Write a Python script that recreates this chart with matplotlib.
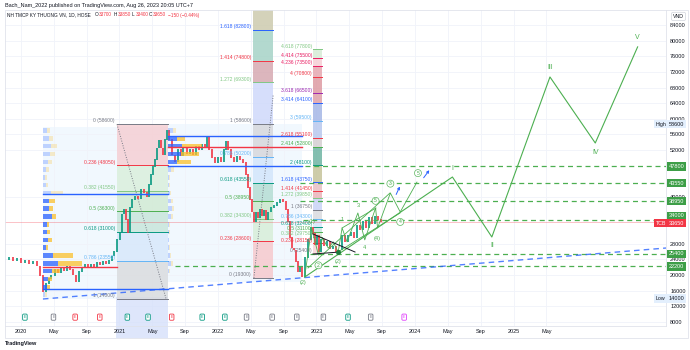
import matplotlib.pyplot as plt
import matplotlib.transforms as mtransforms
from matplotlib.patches import Rectangle

plt.rcParams['font.family'] = ['Liberation Sans', 'DejaVu Sans']

# daily-ish closes, sampled (decimal year, VND)
bar_t = [2019.84, 2019.88, 2019.92, 2019.96, 2020.00, 2020.04, 2020.08, 2020.12, 2020.16, 2020.19,
         2020.22, 2020.25, 2020.28, 2020.31, 2020.35, 2020.38, 2020.41, 2020.44, 2020.47, 2020.50,
         2020.53, 2020.56, 2020.59, 2020.62, 2020.65, 2020.68, 2020.71, 2020.74, 2020.77, 2020.80,
         2020.83, 2020.86, 2020.89, 2020.92, 2020.94, 2020.97, 2021.01, 2021.03, 2021.05, 2021.07,
         2021.09, 2021.11, 2021.13, 2021.16, 2021.19, 2021.22, 2021.25, 2021.28, 2021.30, 2021.32,
         2021.34, 2021.36, 2021.38, 2021.40, 2021.42, 2021.44, 2021.46, 2021.48, 2021.50, 2021.53,
         2021.56, 2021.59, 2021.62, 2021.65, 2021.69, 2021.72, 2021.75, 2021.78, 2021.81, 2021.84,
         2021.87, 2021.89, 2021.91, 2021.94, 2021.97, 2022.00, 2022.03, 2022.06, 2022.08, 2022.10,
         2022.13, 2022.16, 2022.19, 2022.22, 2022.25, 2022.28, 2022.30, 2022.32, 2022.35, 2022.37,
         2022.39, 2022.41, 2022.43, 2022.45, 2022.47, 2022.49, 2022.51, 2022.54, 2022.57, 2022.60,
         2022.63, 2022.66, 2022.69, 2022.71, 2022.73, 2022.75, 2022.77, 2022.79, 2022.81, 2022.83,
         2022.85, 2022.88, 2022.91, 2022.94, 2022.96, 2022.98, 2023.01, 2023.03, 2023.05, 2023.08,
         2023.11, 2023.14, 2023.17, 2023.20, 2023.23, 2023.26, 2023.29, 2023.32, 2023.35, 2023.38,
         2023.41, 2023.44, 2023.47, 2023.50, 2023.53, 2023.56, 2023.59, 2023.62, 2023.65]
bar_close = [23900, 24600, 23600, 24100, 23100, 23600, 22800, 23400, 22300, 19800,
             15700, 17700, 19000, 19800, 21300, 20500, 21800, 21000, 22300, 21300,
             20000, 18200, 20800, 21800, 22600, 22100, 22800, 22100, 23100, 22600,
             23400, 22800, 23600, 24800, 25900, 29000, 31000, 35600, 36700, 34100,
             30800, 37200, 39200, 40000, 39500, 41800, 41000, 40000, 43100, 45600,
             47700, 49500, 52500, 54300, 52500, 50700, 54600, 57100, 54600, 50700,
             48900, 52000, 50500, 52500, 51000, 52000, 50700, 53000, 52000, 53300,
             52500, 55300, 52000, 50000, 48700, 50000, 48900, 52000, 54100, 52000,
             50000, 48900, 50200, 49500, 48700, 45600, 42300, 39200, 36100, 33600,
             36100, 34600, 36700, 35100, 36400, 34100, 36100, 37200, 37700, 38500,
             39200, 38700, 36700, 33600, 29500, 26900, 26400, 23400, 20800, 22300,
             19500, 24400, 29000, 32100, 30500, 27700, 30000, 25900, 29000, 27400,
             28500, 26700, 27400, 25900, 26400, 30000, 28500, 30000, 31000, 29500,
             32600, 31500, 33600, 32100, 34600, 33100, 35100, 34100, 33650]

# volume profile rows (price bin centres) and up/down volume
vp_rows = [57000, 55000, 53000, 51000, 49000, 47000, 45000, 43000, 41000, 39000, 37000,
           35000, 33000, 31000, 29000, 27000, 25000, 23000, 21000, 19000, 17000, 15000]
vp1_up = [4, 6, 8, 7, 5, 3, 2, 3, 8, 6, 6, 9, 4, 4, 5, 3, 10, 15, 9, 5, 4, 2]
vp1_down = [3, 4, 6, 5, 4, 3, 2, 2, 12, 6, 4, 4, 2, 3, 4, 2, 20, 24, 8, 4, 3, 2]
vp2_up = [5, 9, 14, 13, 9, 3, 1, 1, 2, 3, 4, 3, 1, 1, 1, 1, 2, 3, 1, 0, 0, 0]
vp2_down = [3, 8, 20, 18, 14, 3, 1, 1, 1, 2, 2, 2, 1, 1, 0, 1, 1, 2, 1, 0, 0, 0]
vp1_vah, vp1_poc, vp1_val = 40700, 22100, 16400
vp2_vah, vp2_poc, vp2_val = 55600, 52800, 47800

# fib retracement 2021 rally
fib1_coef = ['0', '0.236', '0.382', '0.5', '0.618', '0.786', '1']
fib1_vals = [58600, 48050, 41550, 36300, 31000, 23550, 14000]
# fib extension from 2022 low
fib2_coef = ['0', '0.236', '0.382', '0.5', '0.618', '0.786', '1', '1.272', '1.414', '1.618']
fib2_vals = [19300, 28600, 34300, 38950, 43550, 50200, 58600, 69300, 74800, 82800]
# trend-based extension
fib3_coef = ['0', '0.236', '0.382', '0.5', '0.618', '0.786', '1', '1.272', '1.414', '1.618',
             '2', '2.414', '2.618', '3', '3.414', '3.618', '4', '4.236', '4.414', '4.618']
fib3_vals = [25400, 28150, 29750, 31100, 32400, 34300, 36750, 39850, 41450, 43750,
             48100, 52800, 55100, 59500, 64100, 66500, 70800, 73500, 75500, 77800]

# support / resistance levels
levels = [47800, 43550, 38950, 34000, 25400, 22200]
level_start = [2022.88, 2022.83, 2022.83, 2022.86, 2022.93, 2021.56]
last_price = 33650

# elliott wave count
big_t = [2022.88, 2024.38, 2024.78, 2025.37, 2025.83, 2026.26]
big_v = [19500, 45100, 29750, 70700, 53800, 78400]
big_lbl = ['', 'I', 'II', 'III', 'IV', 'V']
sub_t = [2022.88, 2022.95, 2023.02, 2023.06, 2023.12, 2023.17, 2023.22, 2023.26, 2023.31,
         2023.42, 2023.49, 2023.60, 2023.62, 2023.75, 2023.85, 2024.02]
sub_v = [19500, 32050, 25100, 29500, 26900, 28500, 25900, 32050, 28500,
         35900, 29000, 37200, 32050, 41000, 36150, 43800]

events_t = [2020.04, 2020.33, 2020.55, 2020.80, 2021.08, 2021.29, 2021.53, 2021.84,
            2022.07, 2022.29, 2022.55, 2022.80, 2023.07, 2023.32, 2023.55, 2023.89]
events_c = ['g', 'k', 'r', 'r', 'g', 'g', 'r', 'g', 'g', 'k', 'k', 'k', 'k', 'g', 'k', 'm']

GREEN = '#4caf50'
RED = '#f23645'
TEAL = '#089981'
GRAY = '#787b86'
LGREEN = '#81c784'
LBLUE = '#64b5f6'
BLUE = '#2962ff'
PURPLE = '#9c27b0'
PINK = '#e91e63'
PX = 1 / 98.5  # one pixel in years

fig = plt.figure(figsize=(6.9, 3.5), dpi=100)
ax = fig.add_axes([5 / 690, 24 / 350, 661 / 690, 316 / 350])
ax.set_xlim(2019.838, 2026.548)
ax.set_ylim(6974, 87838)

# grid / axes
xt, xl = [], []
for yr in range(2020, 2026):
    for m, name in [(1, str(yr)), (5, 'May'), (9, 'Sep')]:
        if yr == 2025 and m == 9:
            continue
        xt.append(yr + (m - 1) / 12)
        xl.append(name)
ax.set_xticks(xt)
ax.set_xticklabels(xl)
yt = [8000, 12000, 16000, 20000, 24000, 28000, 40000, 52000,
      56000, 60000, 64000, 68000, 72000, 76000, 80000, 84000]
ax.set_yticks(yt)
ax.yaxis.tick_right()
ax.tick_params(axis='both', length=0, labelsize=4, colors='#131722')
ax.tick_params(axis='x', pad=2)
ax.tick_params(axis='y', pad=3)
ax.grid(color='#f0f3fa', lw=0.6)
ax.set_axisbelow(True)
for s in ['left', 'top']:
    ax.spines[s].set_visible(False)
for s in ['right', 'bottom']:
    ax.spines[s].set_color('#e0e3eb')
    ax.spines[s].set_linewidth(0.6)

# volume profile boxes
ax.add_patch(Rectangle((2020.223, 14000), 2021.492 - 2020.223, 57900 - 14000,
                       fc='#2196f3', alpha=0.06, lw=0, zorder=0.5))
ax.add_patch(Rectangle((2021.492, 18200), 2022.853 - 2021.492, 58600 - 18200,
                       fc='#2196f3', alpha=0.06, lw=0, zorder=0.5))

# fib fills
fib1_fill = ['#f6cdd1', '#d9eeda', '#d0e9d1', '#c6e5d9', '#d6e7fb', '#d9dadd']
fib1_col = [GRAY, RED, LGREEN, GREEN, TEAL, LBLUE, GRAY]
for i in range(6):
    ax.fill_between([2020.975, 2021.492], fib1_vals[i + 1], fib1_vals[i],
                    color=fib1_fill[i], alpha=0.8, lw=0, zorder=1)
for v, c, k in zip(fib1_vals, fib1_col, fib1_coef):
    ax.plot([2020.975, 2021.492], [v, v], color=c, lw=0.7, zorder=1.2)
    ax.text(2020.954, v + 200, f'{k} ({v})', color=c, fontsize=3.6, ha='right', va='bottom', zorder=5)
ax.plot([2020.975, 2021.472], [58600, 14000], color=GRAY, lw=0.7, ls=(0, (1, 1.5)), zorder=1.3)

fib2_fill = ['#f6c9cd', '#d8eed9', '#cbe8cc', '#b5ded4', '#d3e6fb', '#d7d8dc',
             '#cfd9fb', '#d6a9b2', '#a6d3c7', '#cdcbae']
fib2_col = [GRAY, RED, LGREEN, GREEN, TEAL, LBLUE, GRAY, LGREEN, RED, BLUE]
fib2_top = fib2_vals[1:] + [95000]
for i in range(10):
    ax.fill_between([2022.355, 2022.558], fib2_vals[i], fib2_top[i],
                    color=fib2_fill[i], alpha=0.85, lw=0, zorder=1)
for v, c, k in zip(fib2_vals, fib2_col, fib2_coef):
    ax.plot([2022.355, 2022.558], [v, v], color=c, lw=0.7, zorder=1.2)
    ax.text(2022.335, v + 200, f'{k} ({v})', color=c, fontsize=3.6, ha='right', va='bottom', zorder=5)
ax.plot([2022.365, 2022.56], [19300, 66000], color=GRAY, lw=0.7, ls=(0, (1, 1.5)), zorder=1.3)

fib3_fill = ['#f7d4d7', '#dcefdc', '#d3ebd4', '#c7e6df', '#d6e7fb', '#dadbdf', '#c9d3f7',
             '#eab4ba', '#e7bfc3', '#c6c49a', '#6fb4a3', '#d5cfd2', '#b9c8ee', '#a5b6e6',
             '#dfa0a8', '#dd9aa2', '#e6a7b0', '#f6cfd5', '#d6ecd6']
fib3_col = [GRAY, RED, LGREEN, GREEN, TEAL, LBLUE, GRAY, LGREEN, RED, BLUE,
            TEAL, GREEN, RED, LBLUE, BLUE, PURPLE, RED, PINK, PINK, LGREEN]
for i in range(19):
    ax.fill_between([2022.964, 2023.056], fib3_vals[i], fib3_vals[i + 1],
                    color=fib3_fill[i], alpha=0.85, lw=0, zorder=1)
for v, c, k in zip(fib3_vals, fib3_col, fib3_coef):
    ax.plot([2022.964, 2023.056], [v, v], color=c, lw=0.7, zorder=1.2)
    ax.text(2022.954, v + 150, f'{k} ({v})', color=c, fontsize=3.6, ha='right', va='bottom', zorder=5)

# candles
for i in range(1, len(bar_t)):
    o, c = bar_close[i - 1], bar_close[i]
    col = TEAL if c >= o else RED
    ax.vlines(bar_t[i], min(o, c), max(o, c) + 150, color=col, lw=1.2, zorder=3)

# volume profiles
def profile(x0, up, down, vah, val):
    for p, u, d in zip(vp_rows, up, down):
        a = 0.75 if val <= p <= vah else 0.25
        if u:
            ax.barh(p, u * PX, left=x0, height=1150, color=BLUE, alpha=a, lw=0, zorder=3.2)
        if d:
            ax.barh(p, d * PX, left=x0 + u * PX, height=1150, color='#fbc02d', alpha=a, lw=0, zorder=3.2)

profile(2020.223, vp1_up, vp1_down, vp1_vah, vp1_val)
profile(2021.492, vp2_up, vp2_down, vp2_vah, vp2_val)
ax.plot([2020.223, 2021.492], [vp1_vah] * 2, color=BLUE, lw=1.0, zorder=3.3)
ax.plot([2020.223, 2021.492], [vp1_val] * 2, color=BLUE, lw=1.0, zorder=3.3)
ax.plot([2020.223, 2020.975], [vp1_poc] * 2, color=RED, lw=1.0, zorder=3.3)
for v, c in [(vp2_vah, BLUE), (vp2_poc, RED), (vp2_val, BLUE)]:
    ax.plot([2021.492, 2022.853], [v, v], color=c, lw=1.0, zorder=3.3)

# last price line
ax.axhline(last_price, color=RED, alpha=0.35, lw=0.6, zorder=2)

# support / resistance
for v, x0 in zip(levels, level_start):
    ax.plot([x0, 2026.6], [v, v], color=GREEN, lw=0.9, ls=(0, (4, 3)), zorder=3.5)

# long trend line
ax.plot([2020.223, 2026.548], [13880, 26930], color=BLUE, lw=1.0, ls=(0, (4, 3)), zorder=3.5, alpha=0.8)

# wave count
ax.plot(big_t, big_v, color=GREEN, lw=0.8, zorder=4)
ax.plot(sub_t, sub_v, color=GREEN, lw=0.6, zorder=4)
for t0, v0, t1, v1 in [(2022.914, 21820, 2023.746, 41010),
                       (2023.218, 25910, 2023.848, 35890),
                       (2023.259, 32050, 2023.604, 37170)]:
    ax.plot([t0, t1], [v0, v1], color=GREEN, lw=0.6, zorder=4)
ax.plot([2022.964, 2023.391], [30520, 25910], color='#131722', lw=0.7, zorder=4)
ax.plot([2022.964, 2023.239], [25400, 25910], color='#131722', lw=0.7, zorder=4)
ax.plot(2023.22, 25900, 'o', color='#1b7a3a', ms=2.5, zorder=4.5)
for lbl, t, v in zip(big_lbl, big_t, big_v):
    if lbl:
        dy = 2300 if lbl in ('I', 'III', 'V') else -2300
        ax.text(t, v + dy, lbl, color=GREEN, fontsize=5, ha='center', va='center', zorder=5)

for txt, t, v in [('(2)', 2022.86, 18200), ('(1)', 2022.96, 33600), ('(2)', 2023.22, 23600),
                  ('1', 2023.26, 34300), ('3', 2023.42, 37900), ('4', 2023.49, 27000),
                  ('(4)', 2023.62, 29300)]:
    ax.text(t, v, txt, color=GREEN, fontsize=4, ha='center', va='center', zorder=5)
for txt, t, v in [('2', 2023.02, 22500), ('5', 2023.60, 39000), ('3', 2023.75, 43400),
                  ('4', 2023.85, 33600), ('5', 2024.03, 46100)]:
    ax.text(t, v, txt, color=GREEN, fontsize=3.6, ha='center', va='center', zorder=5,
            bbox=dict(boxstyle='circle,pad=0.2', fc='white', ec=GREEN, lw=0.5, alpha=0.9))
for t0, v0, t1, v1 in [(2023.797, 39990, 2023.858, 43310), (2024.071, 44340, 2024.162, 47410)]:
    ax.annotate('', xy=(t1, v1), xytext=(t0, v0), zorder=5,
                arrowprops=dict(arrowstyle='->', color=BLUE, lw=0.7, mutation_scale=4))

# selected range highlight
tr = mtransforms.blended_transform_factory(ax.transData, ax.transAxes)
ax.add_patch(Rectangle((2020.96, 0), 2021.49 - 2020.96, 0.092, transform=tr,
                       fc='#d6e0fb', alpha=0.8, lw=0, zorder=0.8))
fig.patches.append(Rectangle((116 / 690, 12 / 350), 52 / 690, 12 / 350, transform=fig.transFigure,
                             fc='#d6e0fb', alpha=0.8, lw=0, zorder=-1))

# events row
ev_colors = {'g': TEAL, 'k': GRAY, 'r': RED, 'm': '#e040fb'}
for t, c in zip(events_t, events_c):
    ax.text(t, 0.028, 'E', transform=tr, fontsize=2.6, color=ev_colors[c], ha='center', va='center',
            zorder=5, bbox=dict(boxstyle='round,pad=0.3', fc='white', ec=ev_colors[c], lw=0.6))

# price scale labels
rt = mtransforms.blended_transform_factory(ax.transAxes, ax.transData)
xr = 1 + 3 / 661
box_kw = dict(transform=rt, fontsize=4, ha='left', va='center', zorder=6, clip_on=False)
for v in [47800, 43550, 38950, 25400, 22200]:
    ax.text(xr, v, str(v), color='white', bbox=dict(boxstyle='square,pad=0.3', fc='#3d9e47', ec='none'), **box_kw)
ax.text(xr, 35200, '34000', color='white', bbox=dict(boxstyle='square,pad=0.3', fc='#3d9e47', ec='none'), **box_kw)
ax.text(xr, last_price - 400, str(last_price), color='white',
        bbox=dict(boxstyle='square,pad=0.3', fc=RED, ec='none'), **box_kw)
tag_kw = dict(transform=rt, fontsize=3.8, ha='left', va='center', zorder=6, clip_on=False)
ax.text(1 - 10 / 661, last_price - 400, 'TCB', color='white',
        bbox=dict(boxstyle='square,pad=0.3', fc=RED, ec='none'), **tag_kw)
for v, tag in [(58600, 'High'), (14000, 'Low')]:
    ax.text(xr, v, str(v), color='#131722', bbox=dict(boxstyle='square,pad=0.3', fc='#e3effd', ec='none'), **box_kw)
    ax.text(1 - 10 / 661, v, tag, color='#131722',
            bbox=dict(boxstyle='square,pad=0.3', fc='#e3effd', ec='none'), **tag_kw)
ax.text(1 + 7 / 661, 86200, 'VND', color='#131722',
        bbox=dict(boxstyle='round,pad=0.3', fc='white', ec='#d1d4dc', lw=0.5), **tag_kw)

# header / footer
fig.text(5 / 690, 1 - 5 / 350, 'Bach_Nam_2022 published on TradingView.com, Aug 26, 2023 20:05 UTC+7',
         fontsize=4, color='#131722', va='center')
fig.text(7 / 690, 1 - 15 / 350, 'NH TMCP KY THUONG VN, 1D, HOSE', fontsize=3.4, color='#131722', va='center')
for x, k, val in [(95, 'O', '33700'), (114, 'H', '33850'), (132, 'L', '33400'), (149, 'C', '33650')]:
    fig.text(x / 690, 1 - 15 / 350, k, fontsize=3.4, color='#131722', va='center')
    fig.text((x + 3.6) / 690, 1 - 15 / 350, val, fontsize=3.4, color=RED, va='center')
fig.text(168 / 690, 1 - 15 / 350, '\u2212150 (\u22120.44%)', fontsize=3.4, color=RED, va='center')
fig.text(5 / 690, 1 - 344 / 350, 'TradingView', fontsize=4, color='#131722', va='center', weight='bold')
fig.patches.append(Rectangle((5 / 690, 12 / 350), 683 / 690, 328 / 350, transform=fig.transFigure,
                             fc='none', ec='#e0e3eb', lw=0.6))

fig.savefig('out.png', dpi=100)
